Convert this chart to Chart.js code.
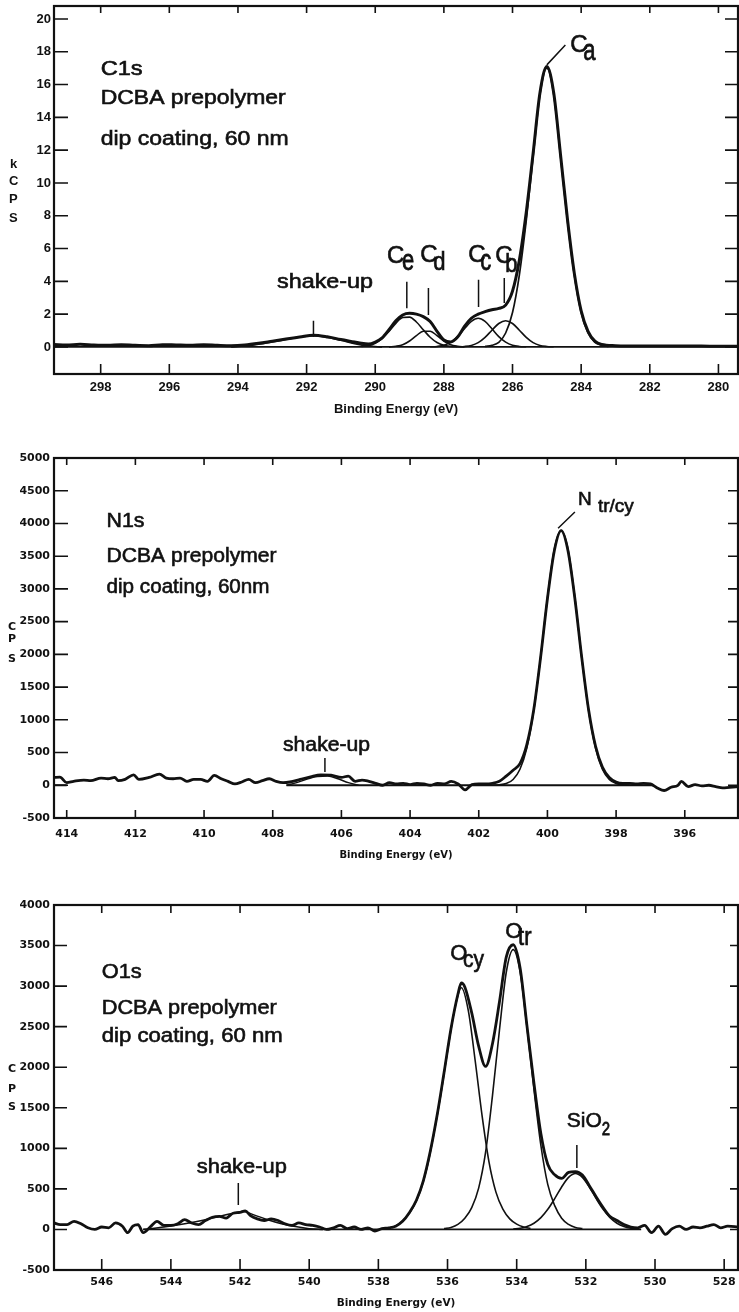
<!DOCTYPE html>
<html>
<head>
<meta charset="utf-8">
<script src="https://cdn.jsdelivr.net/npm/chart.js@4.4.1/dist/chart.umd.min.js"></script>
<style>
  html, body { margin: 0; padding: 0; background: #fff; }
  body { width: 739px; height: 1312px; position: relative; overflow: hidden; }
  canvas { position: absolute; left: 0; }
</style>
</head>
<body>
<canvas id="c1s" width="739" height="425" style="top:0px"></canvas>
<canvas id="n1s" width="739" height="430" style="top:440px"></canvas>
<canvas id="o1s" width="739" height="427" style="top:885px"></canvas>
<script>
// C1s spectrum (kCPS), envelope and fitted components
const c1sEnergy = [299.36, 299.0, 298.6, 298.2, 297.8, 297.4, 297.0, 296.6, 296.2, 295.8,
  295.4, 295.0, 294.6, 294.2, 293.8, 293.4, 293.0, 292.6, 292.2, 291.8,
  291.4, 291.0, 290.6, 290.4, 290.2, 290.0, 289.8, 289.6, 289.4, 289.2,
  289.0, 288.8, 288.6, 288.4, 288.2, 288.0, 287.8, 287.6, 287.4, 287.2,
  287.0, 286.8, 286.6, 286.4, 286.2, 286.0, 285.8, 285.6, 285.4, 285.2,
  285.0, 284.8, 284.6, 284.4, 284.2, 284.0, 283.8, 283.6, 283.4, 283.0,
  282.5, 282.0, 281.5, 281.0, 280.5, 280.0, 279.43];
const c1sEnvelope = [0.15, 0.12, 0.16, 0.12, 0.10, 0.14, 0.10, 0.08, 0.14, 0.12,
  0.10, 0.13, 0.10, 0.08, 0.12, 0.22, 0.35, 0.48, 0.60, 0.72,
  0.62, 0.45, 0.30, 0.22, 0.18, 0.30, 0.55, 1.05, 1.60, 1.95,
  2.05, 2.00, 1.85, 1.55, 0.95, 0.42, 0.30, 0.60, 1.25, 1.75,
  2.00, 2.15, 2.27, 2.35, 2.55, 3.40, 5.30, 8.20, 11.8, 15.5,
  17.1, 15.5, 11.7, 7.8, 4.5, 2.2, 0.95, 0.35, 0.15, 0.08,
  0.06, 0.05, 0.06, 0.05, 0.05, 0.04, 0.04];
const c1sCaEnergy = [286.8, 286.6, 286.4, 286.2, 286.0, 285.8, 285.6, 285.4, 285.2, 285.0,
  284.8, 284.6, 284.4, 284.2, 284.0, 283.8, 283.6, 283.4, 283.2];
const c1sCa = [0.04, 0.10, 0.28, 0.85, 2.1, 4.4, 7.7, 11.6, 15.4, 17.0,
  15.4, 11.6, 7.7, 4.4, 2.1, 0.85, 0.28, 0.10, 0.04];
const c1sCbEnergy = [287.6, 287.4, 287.2, 287.0, 286.8, 286.6, 286.4, 286.2, 286.0, 285.8,
  285.6, 285.4, 285.2, 285.0, 284.8];
const c1sCb = [0.01, 0.03, 0.09, 0.26, 0.58, 1.02, 1.43, 1.60, 1.43, 1.02, 0.58, 0.26, 0.09, 0.03, 0.01];
const c1sCcEnergy = [288.4, 288.2, 288.0, 287.8, 287.6, 287.4, 287.2, 287.0, 286.8, 286.6,
  286.4, 286.2, 286.0, 285.8, 285.6];
const c1sCc = [0.01, 0.03, 0.10, 0.29, 0.63, 1.11, 1.56, 1.75, 1.56, 1.11, 0.63, 0.29, 0.10, 0.03, 0.01];
const c1sCdEnergy = [289.6, 289.4, 289.2, 289.0, 288.8, 288.6, 288.4, 288.2, 288.0, 287.8, 287.6, 287.4];
const c1sCd = [0.0, 0.04, 0.13, 0.36, 0.69, 0.96, 0.96, 0.69, 0.36, 0.13, 0.04, 0.0];
const c1sCeEnergy = [290.4, 290.2, 290.0, 289.8, 289.6, 289.4, 289.2, 289.0, 288.8, 288.6,
  288.4, 288.2, 288.0, 287.8, 287.6];
const c1sCe = [0.03, 0.08, 0.23, 0.51, 0.95, 1.44, 1.79, 1.82, 1.52, 1.05, 0.59, 0.27, 0.10, 0.03, 0.0];
const c1sShakeEnergy = [294.2, 293.8, 293.4, 293.0, 292.6, 292.2, 291.8, 291.4, 291.0, 290.6, 290.2, 289.8];
const c1sShake = [0.0, 0.05, 0.16, 0.30, 0.45, 0.60, 0.68, 0.58, 0.40, 0.20, 0.06, 0.0];
const c1sBaseEnergy = [299.36, 279.43];
const c1sBase = [0, 0];

// N1s spectrum (CPS)
const n1sEnergy = [414.37, 414.2, 414.0, 413.8, 413.5, 413.3, 413.0, 412.8, 412.6, 412.5,
  412.3, 412.05, 411.9, 411.6, 411.3, 411.1, 410.9, 410.7, 410.5, 410.3,
  410.1, 409.9, 409.7, 409.5, 409.3, 409.1, 408.9, 408.7, 408.5, 408.3,
  408.1, 407.9, 407.7, 407.5, 407.2, 406.9, 406.6, 406.3, 406.0, 405.8,
  405.6, 405.4, 405.2, 405.0, 404.8, 404.6, 404.4, 404.2, 404.0, 403.8,
  403.6, 403.4, 403.2, 403.0, 402.8, 402.6, 402.4, 402.2, 402.0, 401.8,
  401.6, 401.4, 401.2, 401.0, 400.8, 400.6, 400.4, 400.2, 400.0, 399.8,
  399.6, 399.4, 399.2, 399.0, 398.8, 398.6, 398.4, 398.2, 398.0, 397.8,
  397.6, 397.4, 397.2, 397.0, 396.8, 396.6, 396.4, 396.2, 396.1, 395.9,
  395.7, 395.5, 395.3, 395.1, 394.9, 394.45];
const n1sEnvelope = [120, 125, 40, 60, 80, 70, 110, 100, 120, 70,
  90, 160, 90, 120, 170, 110, 100, 110, 60, 90,
  90, 60, 150, 100, 60, 20, 50, 90, 40, 70,
  100, 60, 40, 50, 90, 130, 160, 155, 120, 140,
  60, 80, 60, 30, 0, 40, 20, 30, 10, 30,
  20, 0, 30, 20, 60, 20, -70, 10, 20, 20,
  30, 60, 140, 230, 330, 620, 1150, 1950, 2850, 3580,
  3890, 3580, 2850, 1950, 1150, 600, 280, 120, 50, 30,
  30, 20, 30, 20, -40, -80, -30, 0, 60, -20,
  10, -10, 0, -20, -40, -20];
const n1sPeakEnergy = [401.6, 401.4, 401.2, 401.0, 400.8, 400.6, 400.4, 400.2, 400.0, 399.8,
  399.6, 399.4, 399.2, 399.0, 398.8, 398.6, 398.4, 398.2, 398.0, 397.8, 397.6];
const n1sPeak = [0, 8, 28, 89, 244, 568, 1136, 1945, 2859, 3602,
  3890, 3602, 2859, 1945, 1136, 568, 244, 89, 28, 8, 0];
const n1sShakeEnergy = [407.6, 407.3, 407.0, 406.7, 406.4, 406.1, 405.8, 405.5];
const n1sShake = [0, 40, 95, 135, 140, 100, 40, 0];
const n1sBaseEnergy = [414.37, 414.0, 413.9, 407.6, 396.9];
const n1sBase = [0, 0, null, 0, 0];

// O1s spectrum (CPS)
const o1sEnergy = [547.38, 547.2, 547.0, 546.8, 546.6, 546.4, 546.2, 546.0, 545.8, 545.6,
  545.4, 545.25, 545.1, 544.95, 544.8, 544.6, 544.4, 544.2, 544.0, 543.8,
  543.6, 543.4, 543.2, 543.0, 542.8, 542.6, 542.4, 542.2, 542.0, 541.85,
  541.7, 541.5, 541.3, 541.1, 540.9, 540.7, 540.5, 540.3, 540.1, 539.9,
  539.7, 539.5, 539.3, 539.1, 538.9, 538.7, 538.5, 538.3, 538.1, 537.9,
  537.7, 537.5, 537.3, 537.1, 536.9, 536.7, 536.5, 536.3, 536.1, 535.9,
  535.7, 535.6, 535.5, 535.3, 535.1, 534.9, 534.7, 534.5, 534.3, 534.1,
  533.9, 533.7, 533.5, 533.3, 533.1, 532.9, 532.7, 532.5, 532.3, 532.1,
  531.9, 531.7, 531.5, 531.3, 531.1, 530.9, 530.7, 530.5, 530.3, 530.1,
  529.9, 529.7, 529.5, 529.3, 529.1, 528.9, 528.7, 528.5, 528.3, 528.1,
  527.9, 527.6];
const o1sEnvelope = [80, 60, 60, 100, 70, 20, 0, 30, 20, 80,
  40, -40, 40, 60, -40, 30, 100, 50, 50, 70,
  120, 80, 60, 110, 150, 160, 140, 200, 210, 230,
  170, 130, 110, 130, 110, 70, 50, 80, 60, 50,
  30, 0, 20, 50, 10, 30, 0, 20, -20, 10,
  20, 40, 100, 210, 360, 600, 960, 1410, 1935, 2475,
  2900, 3040, 2990, 2670, 2260, 2010, 2290, 2800, 3360, 3510,
  3220, 2500, 1800, 1180, 800, 673, 630, 704, 714, 670,
  540, 400, 270, 160, 110, 60, 30, 20, 50, -40,
  40, -60, 10, 40, 0, 30, 20, 40, 60, 20,
  40, 30];
const o1sCyEnergy = [537.6, 537.4, 537.2, 537.0, 536.8, 536.6, 536.4, 536.2, 536.0, 535.8,
  535.6, 535.4, 535.2, 535.0, 534.8, 534.6, 534.4, 534.2, 534.0, 533.8, 533.6];
const o1sCy = [20, 70, 150, 270, 460, 750, 1170, 1650, 2200, 2700,
  2980, 2700, 2080, 1400, 830, 460, 250, 130, 65, 30, 12];
const o1sTrEnergy = [536.1, 535.9, 535.7, 535.5, 535.3, 535.1, 534.9, 534.7, 534.5, 534.3,
  534.1, 533.9, 533.7, 533.5, 533.3, 533.1, 532.9, 532.7, 532.5, 532.3, 532.1];
const o1sTr = [10, 24, 62, 138, 270, 510, 950, 1650, 2450, 3174,
  3450, 3174, 2484, 1725, 1035, 552, 293, 138, 62, 24, 10];
const o1sSiEnergy = [534.1, 533.9, 533.7, 533.5, 533.3, 533.1, 532.9, 532.7, 532.5, 532.3,
  532.1, 531.9, 531.7, 531.5, 531.3, 531.1, 530.9, 530.7, 530.5];
const o1sSi = [5, 14, 35, 76, 145, 248, 380, 524, 642, 690, 642, 524, 380, 248, 145, 76, 35, 14, 5];
const o1sShakeEnergy = [544.8, 544.2, 543.6, 543.0, 542.6, 542.2, 541.9, 541.6, 541.2, 540.8, 540.4, 540.0, 539.6];
const o1sShake = [0, 30, 70, 120, 160, 200, 220, 180, 120, 70, 35, 10, 0];
const o1sBaseEnergy = [544.8, 530.4];
const o1sBase = [0, 0];

const ink = '#111';
const pts = (xs, ys) => xs.map((x, i) => ({ x: x, y: ys[i] }));
const curve = (xs, ys, w) => ({
  data: pts(xs, ys),
  borderColor: ink,
  borderWidth: w,
  pointRadius: 0,
  fill: false,
  cubicInterpolationMode: 'monotone'
});

function frameTicks(m) {
  return {
    id: 'frameTicks',
    afterDatasetsDraw(chart) {
      const { ctx, chartArea: a, scales: { x, y } } = chart;
      ctx.save();
      ctx.strokeStyle = ink;
      ctx.fillStyle = ink;
      ctx.lineWidth = 2.2;
      ctx.strokeRect(a.left, a.top, a.right - a.left, a.bottom - a.top);
      ctx.lineWidth = 1.6;
      ctx.beginPath();
      x.ticks.forEach(t => {
        const p = x.getPixelForValue(t.value);
        ctx.moveTo(p, a.bottom); ctx.lineTo(p, a.bottom - m.tick.bottom);
        ctx.moveTo(p, a.top); ctx.lineTo(p, a.top + m.tick.top);
      });
      y.ticks.forEach(t => {
        const p = y.getPixelForValue(t.value);
        ctx.moveTo(a.left, p); ctx.lineTo(a.left + m.tick.left, p);
        ctx.moveTo(a.right, p); ctx.lineTo(a.right - m.tick.right, p);
      });
      ctx.stroke();

      // leader lines from labels to peaks
      ctx.lineWidth = 1.5;
      ctx.beginPath();
      m.leaders.forEach(([x1, y1, x2, y2]) => {
        ctx.moveTo(x.getPixelForValue(x1), y.getPixelForValue(y1));
        ctx.lineTo(x.getPixelForValue(x2), y.getPixelForValue(y2));
      });
      ctx.stroke();

      ctx.textAlign = 'left';
      ctx.textBaseline = 'alphabetic';
      ctx.lineWidth = 0.6;
      m.labels.forEach(l => {
        ctx.save();
        ctx.font = l.size + 'px "Liberation Sans", Arial, sans-serif';
        const sx = l.w ? l.w / ctx.measureText(l.text).width : 1;
        ctx.translate(x.getPixelForValue(l.x), y.getPixelForValue(l.y));
        ctx.scale(sx, l.sy || 1);
        ctx.fillText(l.text, 0, 0);
        ctx.strokeText(l.text, 0, 0);
        ctx.restore();
      });

      // stacked y axis title
      ctx.font = m.axisFont;
      m.axisLetters.forEach(([t, px, py]) => ctx.fillText(t, px, py));
      ctx.restore();
    }
  };
}

function makeChart(id, o) {
  return new Chart(document.getElementById(id), {
    type: 'line',
    data: { datasets: o.datasets },
    options: {
      responsive: false,
      animation: false,
      events: [],
      layout: { padding: { top: o.padTop, right: 1, left: 0, bottom: 0 } },
      plugins: { legend: { display: false }, tooltip: { enabled: false } },
      scales: {
        x: {
          type: 'linear',
          reverse: true,
          min: o.xMin,
          max: o.xMax,
          grid: { display: false, drawTicks: false },
          border: { display: false },
          ticks: {
            stepSize: 2, includeBounds: false, autoSkip: false, maxRotation: 0,
            padding: o.xPad, color: ink, font: o.tickFont,
            callback: v => String(Math.round(v))
          },
          title: {
            display: true, text: 'Binding Energy (eV)', color: ink,
            font: o.titleFont, padding: { top: 0, bottom: o.titlePad }
          },
          afterFit: s => { s.height = o.xH; s.paddingLeft = 0; s.paddingRight = 0; }
        },
        y: {
          min: o.yMin,
          max: o.yMax,
          grid: { display: false, drawTicks: false },
          border: { display: false },
          ticks: {
            stepSize: o.yStep, includeBounds: false, padding: o.yPad,
            color: ink, font: o.tickFont,
            callback: v => String(Math.round(v))
          },
          afterFit: s => { s.width = 54; s.paddingTop = 0; s.paddingBottom = 0; }
        }
      }
    },
    plugins: [frameTicks(o.marks)]
  });
}

makeChart('c1s', {
  xMin: 279.43, xMax: 299.36, yMin: -1.65, yMax: 20.79, yStep: 2,
  padTop: 6, xH: 51, xPad: 6, yPad: 3, titlePad: 8,
  tickFont: { family: 'Liberation Sans', size: 13, weight: 'bold' },
  titleFont: { family: 'Liberation Sans', size: 13, weight: 'bold' },
  datasets: [
    curve(c1sBaseEnergy, c1sBase, 1.8),
    curve(c1sShakeEnergy, c1sShake, 1.5),
    curve(c1sCeEnergy, c1sCe, 1.6),
    curve(c1sCdEnergy, c1sCd, 1.6),
    curve(c1sCcEnergy, c1sCc, 1.6),
    curve(c1sCbEnergy, c1sCb, 1.6),
    curve(c1sCaEnergy, c1sCa, 1.7),
    curve(c1sEnergy, c1sEnvelope, 3)
  ],
  marks: {
    tick: { left: 14, right: 13, top: 7, bottom: 10 },
    axisFont: 'bold 13px "Liberation Sans", Arial, sans-serif',
    axisLetters: [['k', 10, 168], ['C', 9, 185], ['P', 9, 203], ['S', 9, 222]],
    leaders: [[291.8, 1.6, 291.8, 0.6], [289.08, 3.98, 289.08, 2.36], [288.45, 3.6, 288.45, 1.95],
      [286.99, 4.09, 286.99, 2.44], [286.24, 4.2, 286.24, 2.68], [284.46, 18.41, 285.0, 17.2]],
    labels: [
      { text: 'C1s', x: 298.0, y: 16.59, size: 20, w: 42 },
      { text: 'DCBA prepolymer', x: 298.0, y: 14.8, size: 20, w: 185 },
      { text: 'dip coating, 60 nm', x: 298.0, y: 12.3, size: 20, w: 188 },
      { text: 'shake-up', x: 292.86, y: 3.6, size: 20, w: 96 },
      { text: 'C', x: 289.66, y: 5.12, size: 24 },
      { text: 'e', x: 289.22, y: 4.70, size: 22, sy: 1.35 },
      { text: 'C', x: 288.69, y: 5.18, size: 24 },
      { text: 'd', x: 288.31, y: 4.70, size: 22, sy: 1.2 },
      { text: 'C', x: 287.29, y: 5.18, size: 24 },
      { text: 'c', x: 286.94, y: 4.70, size: 22, sy: 1.35 },
      { text: 'C', x: 286.50, y: 5.12, size: 24 },
      { text: 'b', x: 286.21, y: 4.60, size: 22, sy: 1.2 },
      { text: 'C', x: 284.32, y: 17.99, size: 24 },
      { text: 'a', x: 283.94, y: 17.5, size: 22, sy: 1.35 }
    ]
  }
});

makeChart('n1s', {
  xMin: 394.45, xMax: 414.37, yMin: -500, yMax: 5000, yStep: 500,
  padTop: 18, xH: 52, xPad: 10, yPad: 4, titlePad: 9,
  tickFont: { family: 'DejaVu Sans', size: 11, weight: 'bold' },
  titleFont: { family: 'DejaVu Sans', size: 10, weight: 'bold' },
  datasets: [
    curve(n1sBaseEnergy, n1sBase, 1.8),
    curve(n1sShakeEnergy, n1sShake, 1.5),
    curve(n1sPeakEnergy, n1sPeak, 1.6),
    curve(n1sEnergy, n1sEnvelope, 2.8)
  ],
  marks: {
    tick: { left: 14, right: 10, top: 7, bottom: 8 },
    axisFont: 'bold 11px "DejaVu Sans", sans-serif',
    axisLetters: [['C', 8, 190], ['P', 8, 202], ['S', 8, 222]],
    leaders: [[406.48, 417, 406.48, 203], [399.2, 4176, 399.69, 3927]],
    labels: [
      { text: 'N1s', x: 412.84, y: 3947, size: 20, w: 38 },
      { text: 'DCBA prepolymer', x: 412.84, y: 3412, size: 20, w: 170 },
      { text: 'dip coating, 60nm', x: 412.84, y: 2938, size: 20, w: 163 },
      { text: 'shake-up', x: 407.7, y: 524, size: 20, w: 87 },
      { text: 'N', x: 399.11, y: 4283, size: 19 },
      { text: 'tr/cy', x: 398.53, y: 4176, size: 19 }
    ]
  }
});

makeChart('o1s', {
  xMin: 527.6, xMax: 547.38, yMin: -500, yMax: 4000, yStep: 500,
  padTop: 20, xH: 42, xPad: 6, yPad: 4, titlePad: 2,
  tickFont: { family: 'DejaVu Sans', size: 11, weight: 'bold' },
  titleFont: { family: 'DejaVu Sans', size: 10.5, weight: 'bold' },
  datasets: [
    curve(o1sBaseEnergy, o1sBase, 1.8),
    curve(o1sShakeEnergy, o1sShake, 1.5),
    curve(o1sCyEnergy, o1sCy, 1.6),
    curve(o1sTrEnergy, o1sTr, 1.6),
    curve(o1sSiEnergy, o1sSi, 1.6),
    curve(o1sEnergy, o1sEnvelope, 2.8)
  ],
  marks: {
    tick: { left: 13, right: 8, top: 8, bottom: 11 },
    axisFont: 'bold 11px "DejaVu Sans", sans-serif',
    axisLetters: [['C', 8, 187], ['P', 8, 207], ['S', 8, 225]],
    leaders: [[542.05, 572, 542.05, 301], [532.26, 1040, 532.26, 757]],
    labels: [
      { text: 'O1s', x: 546.0, y: 3095, size: 20, w: 40 },
      { text: 'DCBA prepolymer', x: 546.0, y: 2651, size: 20, w: 175 },
      { text: 'dip coating, 60 nm', x: 546.0, y: 2306, size: 20, w: 181 },
      { text: 'shake-up', x: 543.25, y: 695, size: 20, w: 90 },
      { text: 'O', x: 535.92, y: 3321, size: 22 },
      { text: 'cy', x: 535.55, y: 3235, size: 21, sy: 1.15 },
      { text: 'O', x: 534.33, y: 3593, size: 22 },
      { text: 'tr', x: 533.96, y: 3507, size: 22, sy: 1.15 },
      { text: 'SiO', x: 532.55, y: 1262, size: 21 },
      { text: '2', x: 531.54, y: 1164, size: 15, sy: 1.25 }
    ]
  }
});
</script>
</body>
</html>
